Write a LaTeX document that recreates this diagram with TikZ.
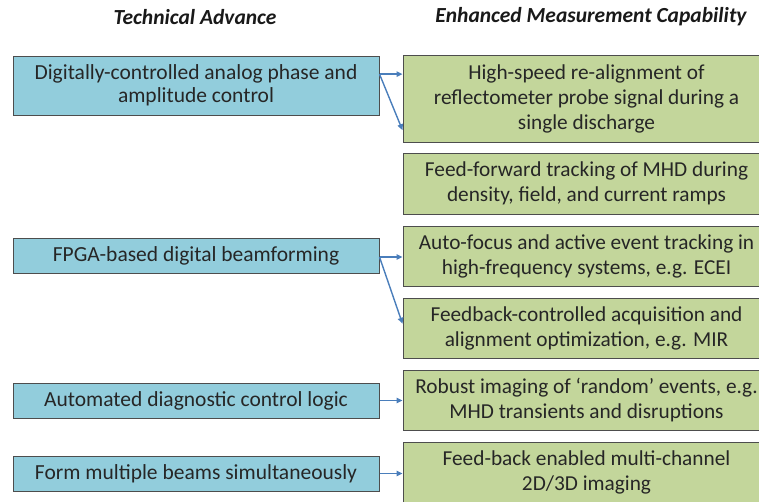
\documentclass[tikz,border=0pt]{standalone}
\usepackage{fontspec}
\setmainfont{Carlito}
\usetikzlibrary{arrows.meta,calc}
\definecolor{advfill}{HTML}{92CDDC}
\definecolor{capfill}{HTML}{C3D69B}
\definecolor{boxline}{HTML}{4D4D4D}
\definecolor{linkblue}{HTML}{4A7EBB}
\tikzset{
  heading/.style={font=\fontsize{21.5}{25}\selectfont\bfseries\itshape, text=black!90, anchor=center},
  advbox/.style={draw=boxline, line width=1pt, fill=advfill, text=black!85,
    minimum width=366pt, align=center, inner sep=0pt,
    font=\fontsize{21.5}{23.5}\selectfont},
  capbox/.style={draw=boxline, line width=1pt, fill=capfill, text=black!85,
    minimum width=367pt, align=center, inner sep=0pt,
    font=\fontsize{21.3}{25}\selectfont},
  link/.style={draw=linkblue, line width=1.4pt, -{Triangle[length=6pt,width=5.5pt]}}
}
\begin{document}
\begin{tikzpicture}[x=1pt,y=-1pt]
\useasboundingbox (0,0) rectangle (759,501);
\clip (0,0) rectangle (759,501);

% column headings
\node[heading] (h1) at (195,17) {Technical Advance};
\node[heading] (h2) at (591,17) {Enhanced Measurement Capability};

% technical advances (left column)
\node[advbox, minimum height=59pt] (l1) at (196,85.5) {Digitally-controlled analog phase and\\amplitude control};
\node[advbox, minimum height=35pt] (l2) at (196,255.5) {FPGA-based digital beamforming};
\node[advbox, minimum height=35pt] (l3) at (196,400.5) {Automated diagnostic control logic};
\node[advbox, minimum height=35pt] (l4) at (196,473.5) {Form multiple beams simultaneously};

% measurement capabilities (right column)
\node[capbox, minimum height=87pt] (r1) at (586.5,98.5) {High-speed re-alignment of\\reflectometer probe signal during a\\single discharge};
\node[capbox, minimum height=61pt] (r2) at (586.5,183.5) {Feed-forward tracking of MHD during\\density, field, and current ramps};
\node[capbox, minimum height=60pt] (r3) at (586.5,256) {Auto-focus and active event tracking in\\high-frequency systems, e.g. ECEI};
\node[capbox, minimum height=60pt] (r4) at (586.5,328) {Feedback-controlled acquisition and\\alignment optimization, e.g. MIR};
\node[capbox, minimum height=60pt] (r5) at (586.5,400) {Robust imaging of ‘random’ events, e.g.\\MHD transients and disruptions};
\node[capbox, minimum height=61pt] (r6) at (586.5,472.5) {Feed-back enabled multi-channel\\2D/3D imaging};

% connectors
\coordinate (s1) at ($(l1.north east)!0.31!(l1.south east)$);
\draw[link] (s1) -- (r1.west |- s1);
\draw[link] (s1) -- ($(r1.north west)!0.86!(r1.south west)$);
\coordinate (s2) at ($(l2.east)+(0,1.5)$);
\draw[link] (s2) -- (r3.west |- s2);
\draw[link] (s2) -- ($(r4.north west)!0.43!(r4.south west)$);
\draw[link] (l3.east) -- (r5.west |- l3.east);
\draw[link] (l4.east) -- (r6.west |- l4.east);
\end{tikzpicture}
\end{document}
